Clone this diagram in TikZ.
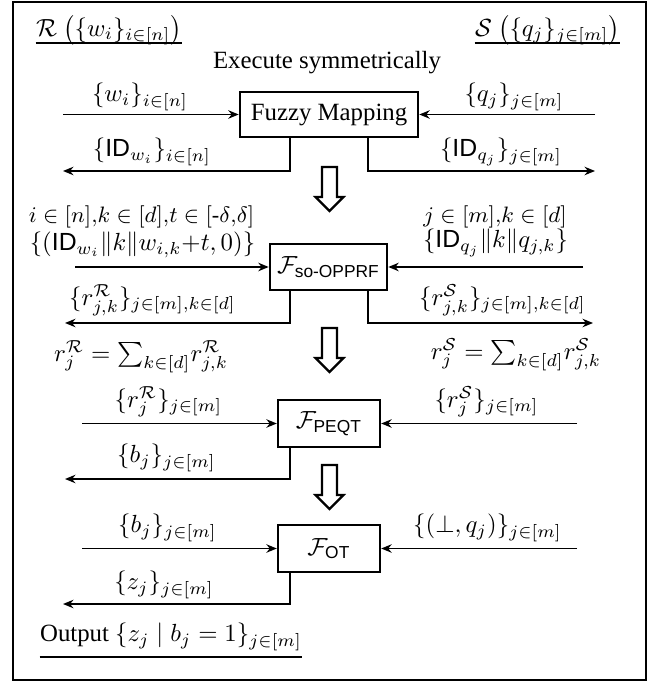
\documentclass[tikz,border=0pt]{standalone}
\usepackage{amsmath,amssymb}
\usepackage[no-math]{fontspec}
\setmainfont{Liberation Serif}
\setsansfont{Liberation Sans}
\usetikzlibrary{arrows.meta}
\tikzset{
  fbox/.style={draw, line width=1pt, inner sep=0pt, align=center},
  lbl/.style={inner sep=0pt},
  conn/.style={line width=0.8pt, -{Stealth[length=4.2pt,width=3.4pt]}},
  bigarrow/.style={draw, line width=0.9pt, fill=white, line join=miter},
  uline/.style={line width=0.5pt}
}
\begin{document}
\begin{tikzpicture}[x=0.4032pt,y=-0.4032pt]
\useasboundingbox (0,0) rectangle (659,682);
\draw[line width=0.8pt] (13,2) rectangle (646,680);

% headers
\node[lbl] (R) at (109,30) {$\mathcal{R}\ \big(\{w_i\}_{i\in[n]}\big)$};
\draw[uline] (R.west |- 0,43) -- (R.east |- 0,43);
\node[lbl] (S) at (547.5,30) {$\mathcal{S}\ \big(\{q_j\}_{j\in[m]}\big)$};
\draw[uline] (S.west |- 0,43) -- (S.east |- 0,43);
\node[lbl] (exec) at (327,63) {Execute symmetrically};

% boxes
\node[fbox, minimum width=71.8pt, minimum height=18.1pt] (fm) at (329,114.5) {Fuzzy Mapping};
\node[fbox, minimum width=47.2pt, minimum height=18.5pt] (opprf) at (328.5,267) {$\mathcal{F}_{\textsf{so-OPPRF}}$};
\node[fbox, minimum width=41.1pt, minimum height=18.9pt] (peqt) at (329,423.5) {$\mathcal{F}_{\textsf{PEQT}}$};
\node[fbox, minimum width=41.1pt, minimum height=18.9pt] (ot) at (329,548.5) {$\mathcal{F}_{\textsf{OT}}$};

% coordinates
\coordinate (xL) at (290,0);
\coordinate (xR) at (367.5,0);
\coordinate (i1L) at (63,114.5);  \coordinate (i1R) at (595,114.5);
\coordinate (o1L) at (63,171);    \coordinate (o1R) at (595,171);
\coordinate (i2L) at (75,267);    \coordinate (i2R) at (583,267);
\coordinate (o2L) at (65,323);    \coordinate (o2R) at (593,323);
\coordinate (i3L) at (82,423.5);  \coordinate (i3R) at (577,423.5);
\coordinate (o3L) at (65,479);
\coordinate (i4L) at (82,548.5);  \coordinate (i4R) at (577,548.5);
\coordinate (o4L) at (63,604);

% fuzzy mapping
\draw[conn] (i1L) -- (fm);
\draw[conn] (i1R) -- (fm);
\draw[conn] (fm.south -| xL) |- (o1L);
\draw[conn] (fm.south -| xR) |- (o1R);
\node[lbl] (l1a) at (140,97) {$\{w_i\}_{i\in[n]}$};
\node[lbl] (l1b) at (514,97) {$\{q_j\}_{j\in[m]}$};
\node[lbl] (l1c) at (152,152) {$\{\textsf{ID}_{w_i}\}_{i\in[n]}$};
\node[lbl] (l1d) at (501,152) {$\{\textsf{ID}_{q_j}\}_{j\in[m]}$};

% so-OPPRF
\draw[conn] (i2L) -- (opprf);
\draw[conn] (i2R) -- (opprf);
\draw[conn] (opprf.south -| xL) |- (o2L);
\draw[conn] (opprf.south -| xR) |- (o2R);
\node[lbl] (l2a) at (141.5,217) {\small $i\in[n]{,}k\in[d]{,}t\in[\text{-}\delta{,}\delta]$};
\node[lbl] (l2b) at (142.5,245) {$\{(\textsf{ID}_{w_i}\|k\|w_{i,k}{+}t,0)\}$};
\node[lbl] (l2c) at (495,217) {\small $j\in[m]{,}k\in[d]$};
\node[lbl] (l2d) at (495.5,243) {$\{\textsf{ID}_{q_j}\|k\|q_{j,k}\}$};
\node[lbl] (l2e) at (152.5,300) {$\{r^{\mathcal{R}}_{j,k}\}_{j\in[m],k\in[d]}$};
\node[lbl] (l2f) at (502.5,300) {$\{r^{\mathcal{S}}_{j,k}\}_{j\in[m],k\in[d]}$};
\node[lbl] (l2g) at (141,357) {$r_j^{\mathcal{R}}=\sum_{k\in[d]}\!r^{\mathcal{R}}_{j,k}$};
\node[lbl] (l2h) at (516,355) {$r_j^{\mathcal{S}}=\sum_{k\in[d]}\!r^{\mathcal{S}}_{j,k}$};

% PEQT
\draw[conn] (i3L) -- (peqt);
\draw[conn] (i3R) -- (peqt);
\draw[conn] (peqt.south -| xL) |- (o3L);
\node[lbl] (l3a) at (168.5,402) {$\{r_j^{\mathcal{R}}\}_{j\in[m]}$};
\node[lbl] (l3b) at (486.5,402) {$\{r_j^{\mathcal{S}}\}_{j\in[m]}$};
\node[lbl] (l3c) at (166.5,458) {$\{b_j\}_{j\in[m]}$};

% OT
\draw[conn] (i4L) -- (ot);
\draw[conn] (i4R) -- (ot);
\draw[conn] (ot.south -| xL) |- (o4L);
\node[lbl] (l4a) at (167.5,528) {$\{b_j\}_{j\in[m]}$};
\node[lbl] (l4b) at (487.5,528) {$\{(\bot,q_j)\}_{j\in[m]}$};
\node[lbl] (l4c) at (164,585) {$\{z_j\}_{j\in[m]}$};

% output
\node[lbl] (out) at (171,637) {Output $\{z_j\mid b_j=1\}_{j\in[m]}$};
\draw[uline] (out.west |- 0,657) -- (out.east |- 0,657);

% big hollow arrows
\draw[bigarrow] (322,167) -- (337,167) -- (337,197) -- (343.5,197) -- (329.5,211) -- (315.5,197) -- (322,197) -- cycle;
\draw[bigarrow] (322,328) -- (337,328) -- (337,358) -- (343.5,358) -- (329.5,372) -- (315.5,358) -- (322,358) -- cycle;
\draw[bigarrow] (322,465) -- (337,465) -- (337,495) -- (343.5,495) -- (329.5,509) -- (315.5,495) -- (322,495) -- cycle;
\end{tikzpicture}
\end{document}
